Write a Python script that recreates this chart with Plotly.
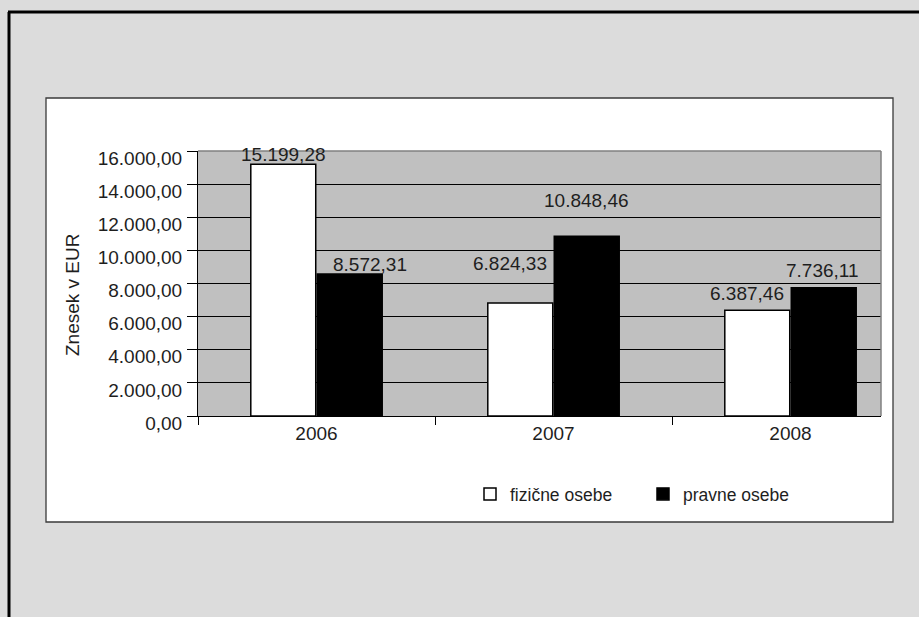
import plotly.graph_objects as go

# ---- data ----
years = ["2006", "2007", "2008"]
fizicne = [15199.28, 6824.33, 6387.46]
pravne = [8572.31, 10848.46, 7736.11]
series_names = ["fizične osebe", "pravne osebe"]
y_tick_values = [0, 2000, 4000, 6000, 8000, 10000, 12000, 14000, 16000]
y_tick_labels = ["0,00", "2.000,00", "4.000,00", "6.000,00", "8.000,00",
                 "10.000,00", "12.000,00", "14.000,00", "16.000,00"]
y_title = "Znesek v EUR"


def fmt_si(v):
    s = f"{v:,.2f}"
    return s.replace(",", "X").replace(".", ",").replace("X", ".")


# ---- geometry (pixels in 919x617 page) ----
W, H = 919, 617
PL, PR, PT, PB = 198, 881, 151, 416   # plot area box
pw, ph = PR - PL, PB - PT


def px(x):
    return (x - PL) / pw


def py(y):
    return (PB - y) / ph


FONT = "Liberation Sans, Arial, Helvetica, sans-serif"
TXT = "#1e1e1e"

fig = go.Figure()
fig.add_trace(go.Bar(x=years, y=fizicne, name=series_names[0],
                     marker=dict(color="white", line=dict(color="black", width=1.5))))
fig.add_trace(go.Bar(x=years, y=pravne, name=series_names[1],
                     marker=dict(color="black", line=dict(color="black", width=1.5))))

# data labels (label offsets relative to bar top / bar centre, in px)
bar_half = 33.25
label_dx = [[0, 20], [-10, 0], [-10, -1]]
label_dy = [[10, 10], [39, 36], [17, 17]]
annotations = []
for i, yr in enumerate(years):
    for j, vals in enumerate([fizicne, pravne]):
        annotations.append(dict(
            x=i, y=vals[i], xref="x", yref="y",
            text=fmt_si(vals[i]), showarrow=False,
            xanchor="center", yanchor="middle",
            xshift=(-bar_half if j == 0 else bar_half) + label_dx[i][j],
            yshift=label_dy[i][j],
            font=dict(family=FONT, size=19, color=TXT)))

# y-axis title
annotations.append(dict(x=px(72), y=py(295), xref="paper", yref="paper",
                        xanchor="center", yanchor="middle",
                        text=y_title, textangle=-90, showarrow=False,
                        font=dict(family=FONT, size=19, color=TXT)))

shapes = [
    # inner white chart box
    dict(type="rect", xref="paper", yref="paper", layer="below",
         x0=px(46), x1=px(893), y0=py(98), y1=py(522),
         fillcolor="white", line=dict(color="#3a3a3a", width=1.3)),
    # plot area grey fill
    dict(type="rect", xref="paper", yref="paper", layer="below",
         x0=0, x1=1, y0=0, y1=1, fillcolor="#c0c0c0", line=dict(width=0)),
    # plot-area grey border (top, right)
    dict(type="line", xref="paper", yref="paper", x0=0, x1=1, y0=1, y1=1,
         line=dict(color="#808080", width=1.5)),
    dict(type="line", xref="paper", yref="paper", x0=1, x1=1, y0=0, y1=1,
         line=dict(color="#808080", width=1.5)),
    # outer black frame (top and left)
    dict(type="line", xref="paper", yref="paper", x0=px(8), x1=px(919),
         y0=py(12), y1=py(12), line=dict(color="black", width=3)),
    dict(type="line", xref="paper", yref="paper", x0=px(9), x1=px(9),
         y0=py(12), y1=py(617), line=dict(color="black", width=3)),
]

cat_w = 237.0
x0 = -0.5
x1 = x0 + pw / cat_w

fig.update_layout(
    width=W, height=H,
    margin=dict(l=PL, r=W - PR, t=PT, b=H - PB, pad=0),
    paper_bgcolor="#dcdcdc", plot_bgcolor="rgba(0,0,0,0)",
    barmode="group", bargap=0.439, bargroupgap=0.023,
    font=dict(family=FONT, size=19, color=TXT),
    showlegend=True,
    legend=dict(orientation="h", x=px(470), y=py(476), xanchor="left", yanchor="top",
                font=dict(family=FONT, size=17.5, color=TXT),
                bgcolor="rgba(0,0,0,0)", entrywidth=128, entrywidthmode="pixels"),
    annotations=annotations, shapes=shapes,
)
fig.update_xaxes(type="category", range=[x0, x1], showline=True, linecolor="black",
                 linewidth=1, ticks="outside", tickson="boundaries", ticklen=8,
                 tickcolor="black", tickwidth=1, showgrid=False,
                 tickfont=dict(family=FONT, size=19, color=TXT), fixedrange=True)
fig.update_yaxes(range=[0, 16000], tickvals=y_tick_values, ticktext=y_tick_labels,
                 showline=True, linecolor="black", linewidth=1, ticks="outside",
                 ticklen=10, tickcolor="black", tickwidth=1, showgrid=True,
                 gridcolor="black", gridwidth=1, zeroline=False,
                 ticklabelshift=7, ticklabelstandoff=1,
                 tickfont=dict(family=FONT, size=19, color=TXT), fixedrange=True)

fig.write_html("out.html")
